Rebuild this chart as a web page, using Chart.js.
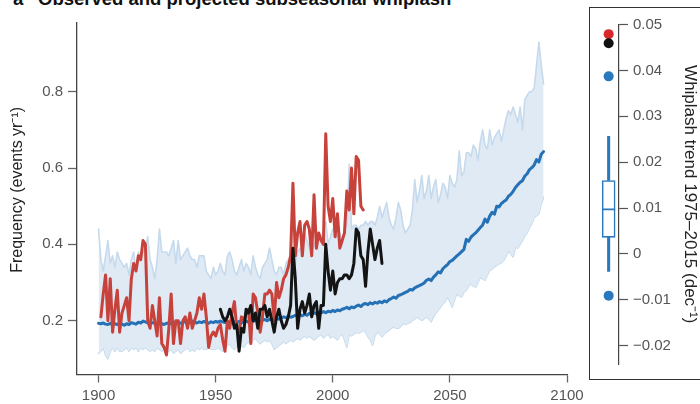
<!DOCTYPE html>
<html>
<head>
<meta charset="utf-8">
<script src="https://cdn.jsdelivr.net/npm/chart.js@4.4.1/dist/chart.umd.min.js"></script>
<style>
html, body { margin: 0; padding: 0; background: #fff; overflow: hidden; }
#wrap { position: relative; width: 700px; height: 404px; overflow: hidden; }
#main { position: absolute; left: 0; top: 0; }
#frame { position: absolute; left: 589px; top: 7px; width: 130px; height: 373px; border: 1px solid #333; box-sizing: border-box; }
#side { position: absolute; left: 590px; top: 8px; }
.ttl { position: absolute; top: -10.5px; font: bold 18.5px "Liberation Sans", Arial, sans-serif; line-height: 18.5px; color: #111; white-space: nowrap; }
</style>
</head>
<body>
<div id="wrap">
  <div class="ttl" style="left:13px">a</div>
  <div class="ttl" style="left:38px">Observed and projected subseasonal whiplash</div>
  <canvas id="main" width="700" height="404"></canvas>
  <div id="frame"></div>
  <canvas id="side" width="112" height="370"></canvas>
</div>
<script>
// years
const modelStart = 1900;
const redStart = 1901;
const blackStart = 1952;

// observed whiplash frequency, dataset 1 (red), 1901-2013
const redObs = [
  0.21,0.27,0.32,0.20,0.31,0.17,0.23,0.28,0.17,0.22,
  0.24,0.26,0.20,0.31,0.35,0.33,0.37,0.36,0.41,0.40,
  0.20,0.18,0.24,0.20,0.16,0.26,0.14,0.13,0.11,0.18,
  0.27,0.14,0.20,0.20,0.14,0.20,0.21,0.18,0.22,0.18,
  0.20,0.22,0.26,0.23,0.27,0.21,0.13,0.16,0.17,0.16,
  0.18,0.19,0.15,0.12,0.20,0.18,0.22,0.25,0.18,0.17,
  0.21,0.20,0.22,0.23,0.14,0.27,0.26,0.22,0.17,0.21,
  0.27,0.27,0.28,0.27,0.20,0.30,0.26,0.28,0.31,0.32,
  0.34,0.37,0.56,0.37,0.43,0.46,0.37,0.45,0.46,0.44,
  0.37,0.53,0.39,0.43,0.41,0.40,0.69,0.50,0.46,0.52,
  0.42,0.48,0.39,0.41,0.43,0.54,0.49,0.60,0.48,0.63,
  0.62,0.50,0.49
];

// observed whiplash frequency, dataset 2 (black), 1952-2021
const blackObs = [
  0.23,0.21,0.20,0.21,0.23,0.21,0.18,0.19,0.12,0.18,
  0.17,0.23,0.22,0.24,0.20,0.22,0.18,0.23,0.23,0.24,
  0.21,0.23,0.20,0.17,0.21,0.23,0.20,0.18,0.19,0.21,
  0.24,0.39,0.31,0.18,0.23,0.25,0.22,0.24,0.27,0.21,
  0.24,0.25,0.18,0.24,0.24,0.40,0.33,0.28,0.33,0.27,
  0.30,0.31,0.31,0.32,0.32,0.31,0.32,0.35,0.44,0.43,
  0.37,0.36,0.29,0.38,0.44,0.40,0.36,0.39,0.41,0.35
];

// model ensemble mean, 1900-2090
const modelMean = [
  0.193,0.192,0.194,0.191,0.190,0.193,0.189,0.192,0.190,0.193,
  0.191,0.188,0.192,0.190,0.195,0.193,0.191,0.196,0.194,0.199,
  0.197,0.194,0.192,0.195,0.193,0.191,0.194,0.192,0.190,0.193,
  0.195,0.192,0.196,0.194,0.197,0.193,0.195,0.198,0.194,0.196,
  0.199,0.196,0.194,0.197,0.195,0.198,0.196,0.193,0.197,0.195,
  0.198,0.196,0.199,0.197,0.195,0.198,0.196,0.199,0.197,0.195,
  0.198,0.194,0.197,0.199,0.196,0.200,0.198,0.201,0.199,0.197,
  0.201,0.203,0.200,0.204,0.202,0.205,0.208,0.204,0.207,0.210,
  0.208,0.212,0.209,0.211,0.214,0.212,0.215,0.213,0.217,0.214,
  0.219,0.216,0.221,0.218,0.222,0.220,0.224,0.221,0.225,0.223,
  0.227,0.224,0.228,0.226,0.230,0.232,0.235,0.231,0.236,0.234,
  0.238,0.241,0.237,0.243,0.245,0.242,0.247,0.244,0.248,0.246,
  0.250,0.247,0.252,0.249,0.255,0.258,0.262,0.259,0.266,0.268,
  0.271,0.274,0.277,0.282,0.280,0.286,0.289,0.292,0.295,0.299,
  0.306,0.309,0.305,0.314,0.320,0.328,0.325,0.336,0.342,0.347,
  0.355,0.358,0.364,0.370,0.375,0.381,0.387,0.413,0.408,0.419,
  0.425,0.430,0.437,0.444,0.451,0.466,0.458,0.474,0.484,0.479,
  0.500,0.498,0.507,0.512,0.516,0.526,0.531,0.539,0.549,0.556,
  0.563,0.567,0.579,0.585,0.596,0.601,0.608,0.622,0.616,0.636,
  0.643
];

// model ensemble spread, upper edge, 1900-2090
const modelUpper = [
  0.44,0.36,0.33,0.37,0.41,0.35,0.37,0.34,0.38,0.36,
  0.35,0.34,0.35,0.32,0.36,0.38,0.33,0.38,0.37,0.38,
  0.39,0.42,0.36,0.34,0.31,0.36,0.44,0.38,0.38,0.38,
  0.37,0.39,0.41,0.35,0.41,0.36,0.37,0.38,0.39,0.37,
  0.36,0.36,0.34,0.37,0.37,0.37,0.33,0.32,0.31,0.34,
  0.32,0.33,0.35,0.33,0.32,0.37,0.38,0.36,0.33,0.32,
  0.34,0.36,0.33,0.35,0.34,0.32,0.37,0.34,0.32,0.31,
  0.34,0.35,0.36,0.39,0.36,0.33,0.32,0.34,0.34,0.32,
  0.35,0.36,0.37,0.39,0.35,0.38,0.39,0.38,0.43,0.41,
  0.39,0.38,0.40,0.41,0.41,0.42,0.43,0.46,0.40,0.42,
  0.44,0.43,0.42,0.43,0.40,0.44,0.45,0.61,0.44,0.45,
  0.45,0.44,0.45,0.45,0.46,0.45,0.46,0.46,0.45,0.47,
  0.50,0.47,0.49,0.51,0.47,0.45,0.44,0.47,0.51,0.49,
  0.45,0.43,0.44,0.45,0.49,0.57,0.51,0.54,0.58,0.52,
  0.54,0.58,0.52,0.55,0.57,0.51,0.53,0.56,0.55,0.52,
  0.58,0.56,0.55,0.57,0.645,0.58,0.59,0.64,0.64,0.63,
  0.66,0.65,0.62,0.67,0.70,0.66,0.65,0.70,0.66,0.68,
  0.69,0.70,0.67,0.70,0.73,0.75,0.74,0.76,0.74,0.72,
  0.76,0.70,0.78,0.79,0.80,0.80,0.81,0.87,0.93,0.87,
  0.82
];

// model ensemble spread, lower edge, 1900-2090
const modelLower = [
  0.114,0.12,0.13,0.11,0.10,0.12,0.13,0.12,0.13,0.12,
  0.12,0.125,0.13,0.12,0.13,0.125,0.13,0.12,0.13,0.125,
  0.13,0.125,0.12,0.125,0.12,0.13,0.125,0.12,0.13,0.125,
  0.12,0.125,0.115,0.12,0.125,0.115,0.12,0.125,0.13,0.12,
  0.125,0.12,0.13,0.125,0.13,0.125,0.125,0.13,0.125,0.125,
  0.125,0.13,0.125,0.12,0.13,0.135,0.14,0.13,0.125,0.135,
  0.13,0.135,0.13,0.14,0.145,0.14,0.15,0.155,0.145,0.14,
  0.145,0.15,0.145,0.15,0.14,0.125,0.13,0.135,0.14,0.145,
  0.14,0.145,0.15,0.145,0.15,0.155,0.15,0.155,0.16,0.155,
  0.16,0.155,0.15,0.155,0.16,0.165,0.155,0.16,0.165,0.155,
  0.16,0.155,0.15,0.16,0.165,0.15,0.13,0.165,0.16,0.165,
  0.17,0.167,0.17,0.175,0.17,0.158,0.15,0.136,0.16,0.171,
  0.165,0.158,0.165,0.171,0.175,0.18,0.184,0.18,0.18,0.185,
  0.193,0.19,0.193,0.195,0.201,0.205,0.21,0.205,0.201,0.205,
  0.21,0.205,0.197,0.21,0.22,0.227,0.235,0.245,0.25,0.262,
  0.25,0.236,0.255,0.271,0.265,0.262,0.275,0.28,0.29,0.297,
  0.29,0.288,0.30,0.314,0.31,0.306,0.32,0.332,0.335,0.341,
  0.345,0.349,0.352,0.358,0.37,0.384,0.375,0.367,0.393,0.39,
  0.40,0.41,0.423,0.43,0.445,0.454,0.471,0.475,0.48,0.506,
  0.523
];

// trend 1975-2015 box plot (model spread) and single values
const trendBox = { lo: -0.0038, q1: 0.0036, median: 0.0097, q3: 0.016, hi: 0.0256 };
const trendDots = [0.0479, 0.0459, 0.0387, -0.0091];
const trendDotColors = ['#d9282a', '#111111', '#2a78bd', '#2a78bd'];

Chart.defaults.font.family = '"Liberation Sans", Arial, sans-serif';

function series(start, vals) {
  return vals.map((v, i) => ({ x: start + i, y: v }));
}

const bandEdge = '#c6daed';

new Chart(document.getElementById('main'), {
  type: 'line',
  data: {
    datasets: [
      { data: series(blackStart, blackObs), borderColor: '#141414', borderWidth: 3 },
      { data: series(redStart, redObs), borderColor: '#c8423c', borderWidth: 3 },
      { data: series(modelStart, modelMean), borderColor: '#2571b5', borderWidth: 3 },
      { data: series(modelStart, modelUpper), borderColor: bandEdge, borderWidth: 1.6,
        fill: '+1', backgroundColor: '#dfeaf5' },
      { data: series(modelStart, modelLower), borderColor: bandEdge, borderWidth: 1.6 }
    ]
  },
  options: {
    responsive: false,
    animation: false,
    events: [],
    layout: { padding: { left: 0, top: 23, right: 133, bottom: 0 } },
    elements: {
      point: { radius: 0 },
      line: { tension: 0, borderJoinStyle: 'round', borderCapStyle: 'round' }
    },
    plugins: { legend: { display: false }, tooltip: { enabled: false } },
    scales: {
      x: {
        type: 'linear',
        min: 1890.8,
        max: 2100,
        afterFit: s => { s.height = 29.5; },
        border: { display: true, color: '#444', width: 1.3 },
        grid: { drawOnChartArea: false, drawTicks: true, tickLength: 8, tickColor: '#666', tickWidth: 1.3 },
        ticks: {
          stepSize: 50, includeBounds: false, autoSkip: false, maxRotation: 0,
          padding: 4, color: '#555', font: { size: 15 },
          callback: v => String(v)
        }
      },
      y: {
        min: 0.059,
        max: 0.98,
        afterFit: s => { s.width = 77; },
        border: { display: true, color: '#444', width: 1.3 },
        grid: { drawOnChartArea: false, drawTicks: true, tickLength: 9, tickColor: '#666', tickWidth: 1.3 },
        ticks: {
          stepSize: 0.2, includeBounds: false, padding: 5, color: '#555', font: { size: 15 },
          callback: v => v.toFixed(1)
        },
        title: {
          display: true,
          text: '\u00a0\u00a0\u00a0\u00a0Frequency (events yr\u207b\u00b9)',
          color: '#222',
          font: { size: 16 },
          padding: { top: 8.4, bottom: 0 }
        }
      }
    }
  }
});

const boxBlue = '#2a78bd';

new Chart(document.getElementById('side'), {
  type: 'bar',
  data: {
    labels: ['trend'],
    datasets: [
      { type: 'line', showLine: false,
        data: trendDots.map(v => ({ x: 'trend', y: v })),
        pointRadius: 5, pointBorderWidth: 0, pointBackgroundColor: trendDotColors },
      { type: 'line', showLine: false,
        data: [{ x: 'trend', y: trendBox.median }],
        pointStyle: 'line', pointRadius: 6.5, pointBorderWidth: 1.8, pointBorderColor: boxBlue },
      { data: [[trendBox.q1, trendBox.q3]], backgroundColor: '#fff', borderColor: boxBlue,
        borderWidth: 1.6, borderSkipped: false, barThickness: 13, grouped: false },
      { data: [[trendBox.q3, trendBox.hi]], backgroundColor: boxBlue, borderWidth: 0,
        barThickness: 2.4, grouped: false },
      { data: [[trendBox.lo, trendBox.q1]], backgroundColor: boxBlue, borderWidth: 0,
        barThickness: 2.4, grouped: false }
    ]
  },
  options: {
    responsive: false,
    animation: false,
    events: [],
    layout: { padding: { left: 4, top: 16.5, right: 0, bottom: 7.3 } },
    plugins: { legend: { display: false }, tooltip: { enabled: false } },
    scales: {
      x: { display: false, offset: true },
      y: {
        position: 'right',
        min: -0.024,
        max: 0.05,
        afterFit: s => { s.width = 83; },
        border: { display: true, color: '#444', width: 1.2 },
        grid: { drawOnChartArea: false, drawTicks: true, tickLength: 9, tickColor: '#555', tickWidth: 1.2 },
        ticks: {
          stepSize: 0.01, includeBounds: false, padding: 5, color: '#555', font: { size: 15 },
          callback: v => Math.abs(v) < 1e-9 ? '0' : (v < 0 ? '\u2212' : '') + Math.abs(v).toFixed(2)
        },
        title: {
          display: true,
          text: 'Whiplash trend 1975\u20132015 (dec\u207b\u00b9)',
          color: '#222',
          font: { size: 17 },
          padding: { top: 2, bottom: 0 }
        }
      }
    }
  }
});
</script>
</body>
</html>
